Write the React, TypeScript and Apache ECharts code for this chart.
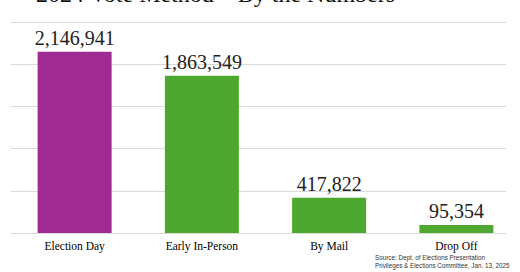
import React, { useEffect, useRef } from "react";
import * as echarts from "echarts";

const categories = ["Election Day", "Early In-Person", "By Mail", "Drop Off"];
const votes = [2146941, 1863549, 417822, 95354];
const barColors = ["#9E2A92", "#4EA72E", "#4EA72E", "#4EA72E"];
const titleText = "2024 Vote Method \u2013 By the Numbers";
const sourceLines = [
  "Source: Dept. of Elections Presentation",
  "Privileges & Elections Committee, Jan. 13, 2025",
];

export default function App() {
  const ref = useRef<HTMLDivElement>(null);
  useEffect(() => {
    const chart = echarts.init(ref.current!, null, { renderer: "svg" });
    const serif = "'Liberation Serif', 'Times New Roman', serif";
    chart.setOption({
      animation: false,
      backgroundColor: "#ffffff",
      grid: [
        { left: 11, right: 14, top: 22, bottom: 39 },
        { left: 11, width: 513, top: 22, bottom: 39 },
      ],
      xAxis: [
        { gridIndex: 0, type: "category", data: categories, show: false },
        {
          gridIndex: 1,
          type: "category",
          data: categories,
          axisLine: { show: false },
          axisTick: { show: false },
          axisLabel: {
            color: "#000",
            fontFamily: serif,
            fontSize: 11.5,
            margin: 7,
          },
        },
      ],
      yAxis: [
        {
          gridIndex: 0,
          type: "value",
          min: 0,
          max: 2500000,
          interval: 500000,
          axisLabel: { show: false },
          axisLine: { show: false },
          axisTick: { show: false },
          splitLine: { lineStyle: { color: "#d9d9d9", width: 1 } },
        },
        {
          gridIndex: 1,
          type: "value",
          min: 0,
          max: 2500000,
          interval: 500000,
          show: false,
          splitLine: { show: false },
        },
      ],
      series: [
        { type: "bar", xAxisIndex: 0, yAxisIndex: 0, data: [] },
        {
          type: "bar",
          xAxisIndex: 1,
          yAxisIndex: 1,
          barWidth: 74,
          data: votes.map((v, i) => ({ value: v, itemStyle: { color: barColors[i] } })),
          label: {
            show: true,
            position: "top",
            distance: 4,
            color: "#222",
            fontFamily: serif,
            fontSize: 20,
            formatter: (p: any) => Number(p.value).toLocaleString("en-US"),
          },
        },
      ],
      graphic: [
        {
          type: "text",
          left: 36,
          top: -18,
          style: {
            text: titleText,
            fontFamily: serif,
            fontSize: 24,
            fill: "#111",
          },
        },
        {
          type: "text",
          left: 375,
          top: 254,
          style: {
            text: sourceLines.join("\n"),
            fontFamily: "'Liberation Sans', Arial, sans-serif",
            fontSize: 6.3,
            lineHeight: 7.8,
            fill: "#333",
          },
        },
      ],
    });
    return () => chart.dispose();
  }, []);
  return <div ref={ref} style={{ width: 520, height: 272, position: "absolute", left: 0, top: 0 }} />;
}
